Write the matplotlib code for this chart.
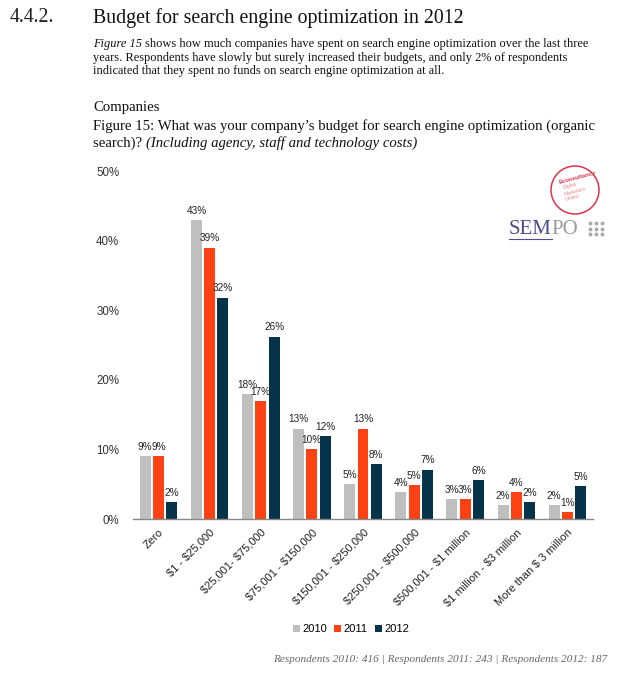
import matplotlib
matplotlib.use("Agg")
import matplotlib.pyplot as plt
import numpy as np
from matplotlib.patches import Circle

categories = ["Zero", "$1 - $25,000", "$25,001- $75,000", "$75,001 - $150,000",
              "$150,001 - $250,000", "$250,001 - $500,000", "$500,001 - $1 million",
              "$1 million - $3 million", "More than $ 3 million"]
years = ["2010", "2011", "2012"]
v2010 = [9.0, 43.0, 18.0, 13.0, 5.0, 3.9, 2.9, 2.0, 2.0]
v2011 = [9.0, 39.0, 17.0, 10.0, 13.0, 4.9, 2.9, 3.9, 1.0]
v2012 = [2.4, 31.8, 26.2, 11.9, 7.9, 7.1, 5.6, 2.4, 4.7]
yticks = [0, 10, 20, 30, 40, 50]
colors = ["#BFBFBF", "#FF4213", "#06324A"]

W, H = 637, 677
fig = plt.figure(figsize=(W / 100, H / 100), dpi=100)
fig.patch.set_facecolor("white")

def px(x, y):
    return x / W, 1 - y / H

SANS = ["Liberation Sans", "DejaVu Sans"]
SERIF = ["Liberation Serif", "DejaVu Serif"]

# Header texts
fig.text(*px(10, 18), "4.4.2.", family=SERIF, fontsize=14.3, color="#222222", va="center")
fig.text(*px(93, 18), "Budget for search engine optimization in 2012", family=SERIF,
         fontsize=14.3, color="#111111", va="center")
para = ["years. Respondents have slowly but surely increased their budgets, and only 2% of respondents",
        "indicated that they spent no funds on search engine optimization at all."]
PFS = 8.95
t1 = fig.text(*px(93, 44), "Figure 15", family=SERIF, fontsize=PFS, style="italic",
              color="#111111", va="center")
fig.canvas.draw()
bb = t1.get_window_extent()
fig.text(bb.x1 / W + 3 / W, 1 - 44 / H, "shows how much companies have spent on search engine optimization over the last three",
         family=SERIF, fontsize=PFS, color="#111111", va="center")
fig.text(*px(93, 58), para[0], family=SERIF, fontsize=PFS, color="#111111", va="center")
fig.text(*px(93, 71), para[1], family=SERIF, fontsize=PFS, color="#111111", va="center")

fig.text(*px(93, 108), "Companies", family=SERIF, fontsize=10.6, color="#111111", va="center")
fig.text(*px(93, 126), "Figure 15: What was your company\u2019s budget for search engine optimization (organic",
         family=SERIF, fontsize=10.6, color="#111111", va="center")
t2 = fig.text(*px(93, 143), "search)? ", family=SERIF, fontsize=10.6, color="#111111", va="center")
fig.canvas.draw()
bb = t2.get_window_extent()
fig.text(bb.x1 / W, 1 - 143 / H, "(Including agency, staff and technology costs)", family=SERIF,
         fontsize=10.6, style="italic", color="#111111", va="center")

# Chart
ax = fig.add_axes([133 / W, 1 - 519 / H, (593 - 133) / W, (519 - 171) / H])
x = np.arange(len(categories))
step, bw = 0.26, 0.215
for k, (vals, c, yr) in enumerate(zip([v2010, v2011, v2012], colors, years)):
    pos = x + (k - 1) * step
    ax.bar(pos, vals, bw, color=c, label=yr, zorder=2)
    for xp, v in zip(pos, vals):
        ax.text(xp, v + 0.6, f"{int(round(v))}%", ha="center", va="bottom",
                fontsize=7.2, family=SANS, color="#222222")

ax.set_xlim(-0.5, len(categories) - 0.5)
ax.set_ylim(0, 50)
ax.set_yticks(yticks)
ax.set_yticklabels([f"{t}%" for t in yticks], family=SANS, fontsize=8.3, color="#333333")
ax.set_xticks(x)
ax.set_xticklabels([c.replace("$", r"\$") for c in categories], rotation=45, ha="right",
                   va="top", rotation_mode="anchor", family=SANS, fontsize=8, color="#222222")
ax.tick_params(axis="y", length=0, pad=10)
ax.tick_params(axis="x", length=0, pad=6)
for s in ["top", "right", "left"]:
    ax.spines[s].set_visible(False)
ax.spines["bottom"].set_color("#888888")
ax.spines["bottom"].set_linewidth(1)

ax.legend(loc="center", bbox_to_anchor=px(351, 629), bbox_transform=fig.transFigure,
          ncol=3, frameon=False, handlelength=0.6, handleheight=0.6,
          handletextpad=0.2, columnspacing=0.7, prop={"family": SANS, "size": 8})

fig.text(*px(607, 660), "Respondents 2010: 416 | Respondents 2011: 243 | Respondents 2012: 187",
         family=SERIF, fontsize=8.1, style="italic", color="#666666", ha="right", va="center")

# Logo
lax = fig.add_axes([540 / W, 1 - 222 / H, 70 / W, 60 / H])
lax.set_xlim(0, 70)
lax.set_ylim(0, 60)
lax.set_aspect("equal")
lax.axis("off")
lax.add_patch(Circle((35, 32), 24, fill=False, edgecolor="#D8354C", linewidth=1.1))
lax.text(37, 44, "Econsultancy", fontsize=4.2, color="#D8354C", weight="bold",
         rotation=15, ha="center", va="center", family=SANS)
for i, w in enumerate(["Digital", "Marketers", "United"]):
    lax.text(22 + i * 1.5, 36 - i * 6, w, fontsize=3.6, color="#E88A96",
             rotation=15, ha="left", va="center", family=SANS)

t3 = fig.text(*px(509, 229), "SEM", family=SERIF, fontsize=15, color="#4E4C8C", va="center")
fig.canvas.draw()
bb = t3.get_window_extent()
fig.text(bb.x1 / W, 1 - 229 / H, "PO", family=SERIF, fontsize=15, color="#9A9A9A", va="center")
fig.add_artist(plt.Line2D([bb.x0 / W, bb.x1 / W], [1 - 239 / H, 1 - 239 / H],
                          color="#4E4C8C", linewidth=0.8))
for i in range(3):
    for j in range(3):
        fig.add_artist(plt.Line2D([(590 + i * 6) / W], [1 - (223 + j * 5.5) / H], marker="o",
                                  markersize=1.8, color="#AAAAAA", linestyle="none"))

fig.savefig("out.png", dpi=100)
